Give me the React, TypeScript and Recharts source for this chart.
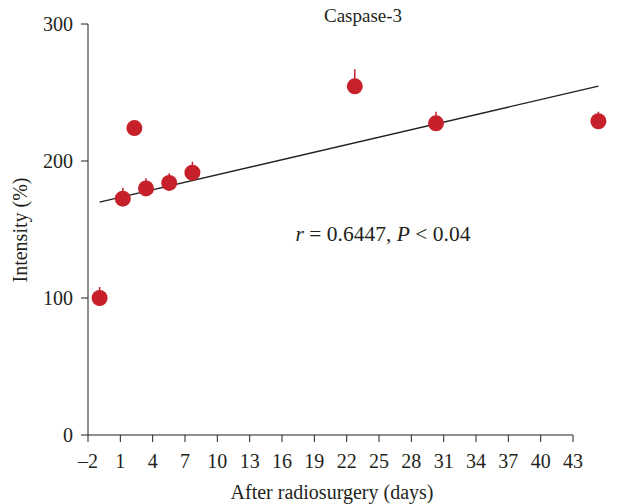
import React from "react";
import {
  ComposedChart,
  Scatter,
  XAxis,
  YAxis,
  ErrorBar,
  ReferenceLine,
} from "recharts";

// Data
const days = [-1, 1, 2, 3, 5, 7, 21, 28, 42];
const intensity = [100, 172.5, 224, 180, 184, 191.5, 254.5, 227.5, 229];
const errUp = [8, 8, 4, 7.5, 7, 8, 12.5, 8.5, 7];
const fitDays = [-1, 42];
const fitValues = [170, 254.6];
const xTickLabels = [-2, 1, 4, 7, 10, 13, 16, 19, 22, 25, 28, 31, 34, 37, 40, 43];
const yTicks = [0, 100, 200, 300];

const points = days.map((d, i) => ({ x: d, y: intensity[i], err: [0, errUp[i]] }));
const tickAnchors = xTickLabels.map((t) => ({ x: t, y: 0 }));

const FONT = "'Liberation Serif', 'DejaVu Serif', serif";
const INK = "#231F20";
const RED = "#C6202B";

const fmt = (v: number) => (v < 0 ? "\u2013" + Math.abs(v) : String(v));

const Dot = (props: any) => {
  const { cx, cy } = props;
  if (cx == null || cy == null) return null;
  return <circle cx={cx} cy={cy} r={8} fill={RED} />;
};
const NoDot = () => null;

const textStyle: React.CSSProperties = {
  position: "absolute",
  fontFamily: FONT,
  color: INK,
  whiteSpace: "nowrap",
  transform: "translate(-50%, -50%)",
  lineHeight: 1,
};

export default function App() {
  return (
    <div style={{ position: "absolute", left: 0, top: 0, width: 620, height: 504, background: "#fff" }}>
      <ComposedChart
        width={620}
        height={504}
        margin={{ top: 24, right: 10, bottom: 9, left: 0 }}
      >
        <XAxis
          xAxisId="data"
          type="number"
          dataKey="x"
          orientation="top"
          domain={[-2, 43]}
          allowDataOverflow
          height={0}
          hide
        />
        <XAxis
          xAxisId="lab"
          type="number"
          dataKey="x"
          domain={[-2, 46.43]}
          allowDataOverflow
          ticks={xTickLabels}
          tickFormatter={fmt}
          axisLine={false}
          tickLine={{ stroke: INK }}
          tickSize={7}
          tickMargin={12}
          height={60}
          interval={0}
          tick={{ fontFamily: FONT, fontSize: 20, fill: INK }}
        />
        <YAxis
          type="number"
          domain={[0, 300]}
          ticks={yTicks}
          width={88}
          axisLine={{ stroke: INK }}
          tickLine={{ stroke: INK }}
          tickSize={7}
          tickMargin={8}
          tick={{ fontFamily: FONT, fontSize: 20, fill: INK }}
        />
        <ReferenceLine
          xAxisId="lab"
          segment={[
            { x: xTickLabels[0], y: 0 },
            { x: xTickLabels[xTickLabels.length - 1], y: 0 },
          ]}
          stroke={INK}
          ifOverflow="visible"
        />
        <ReferenceLine
          xAxisId="data"
          segment={[
            { x: fitDays[0], y: fitValues[0] },
            { x: fitDays[1], y: fitValues[1] },
          ]}
          stroke={INK}
          strokeWidth={1.3}
        />
        <Scatter
          xAxisId="lab"
          data={tickAnchors}
          dataKey="y"
          shape={<NoDot />}
          isAnimationActive={false}
        />
        <Scatter
          xAxisId="data"
          data={points}
          dataKey="y"
          shape={<Dot />}
          isAnimationActive={false}
        >
          <ErrorBar dataKey="err" direction="y" width={0} stroke={RED} strokeWidth={1.5} />
        </Scatter>
      </ComposedChart>
      <div style={{ ...textStyle, left: 363, top: 15, fontSize: 19 }}>Caspase-3</div>
      <div style={{ ...textStyle, left: 383, top: 235, fontSize: 21.5 }}>
        <i>r</i> = 0.6447, <i>P</i> &lt; 0.04
      </div>
      <div style={{ ...textStyle, left: 332, top: 492, fontSize: 20 }}>After radiosurgery (days)</div>
      <div
        style={{
          ...textStyle,
          left: 20,
          top: 230,
          fontSize: 20,
          transform: "translate(-50%, -50%) rotate(-90deg)",
        }}
      >
        Intensity (%)
      </div>
    </div>
  );
}
